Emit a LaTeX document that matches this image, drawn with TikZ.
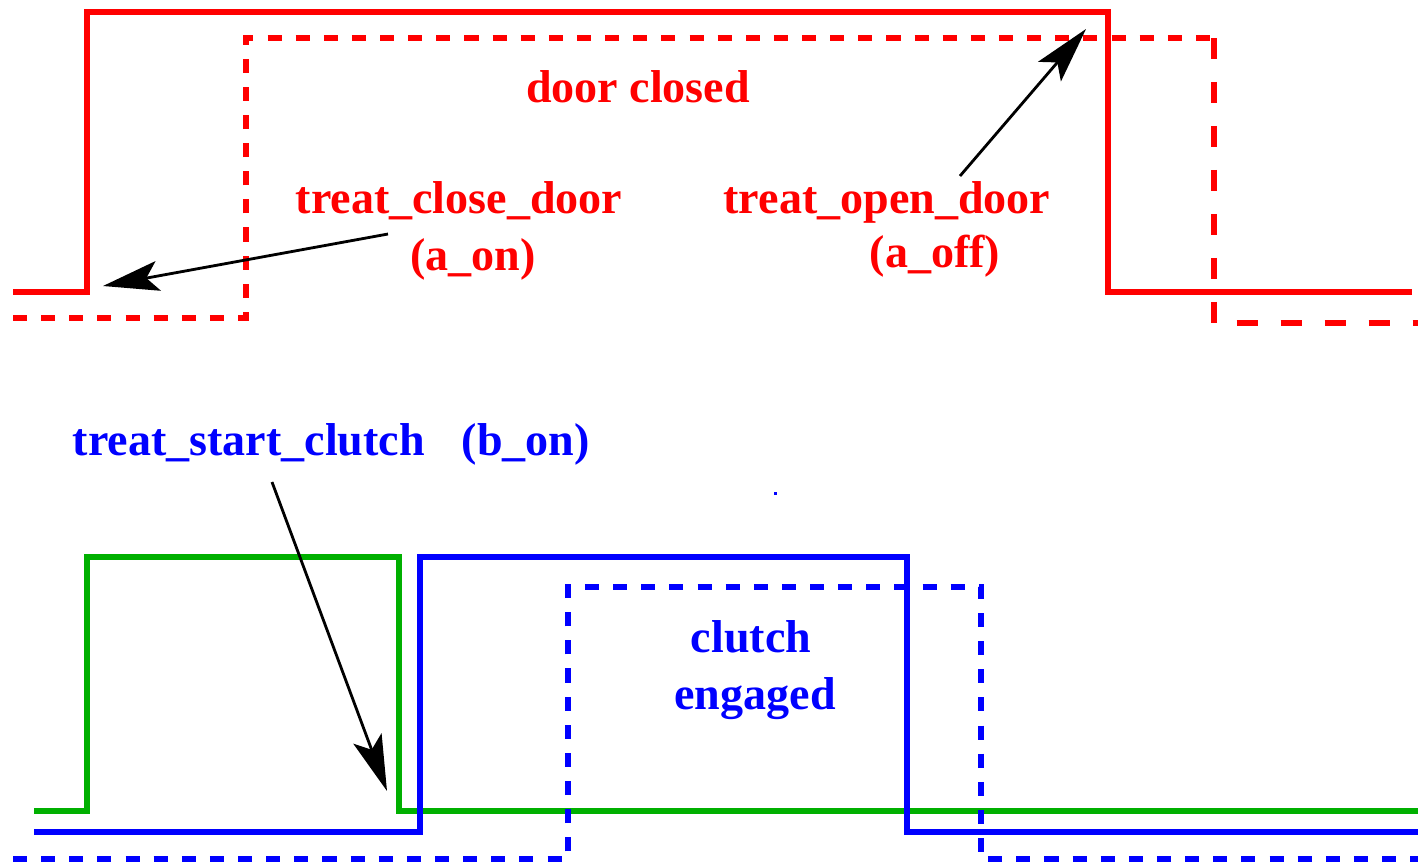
\documentclass[tikz,border=0pt]{standalone}
\usepackage{fontspec}
\setmainfont{Liberation Serif}
\usetikzlibrary{arrows.meta}
\definecolor{doorRed}{HTML}{FF0000}
\definecolor{clutchBlue}{HTML}{0000FF}
\definecolor{startGreen}{HTML}{00B000}
\tikzset{
  wave/.style={line width=1.45pt, line join=miter},
  wave dashed/.style={wave, dash pattern=on 4pt off 4pt},
  wave long dashed/.style={wave, dash pattern=on 6pt off 6.5pt},
  pointer/.style={-{Stealth[length=5.6mm, width=3mm, inset=1.2mm]},
    line width=0.8pt, draw=black},
  sig label/.style={font=\fontsize{13.1}{15}\selectfont\bfseries,
    anchor=base, inner sep=0pt}
}
\begin{document}
\begin{tikzpicture}[x=0.01cm, y=-0.01cm]
  \useasboundingbox (0,0) rectangle (1418,866);
  % door signal
  \draw[wave, doorRed] (13,292) -- (87,292) -- (87,12) -- (1108,12)
    -- (1108,292) -- (1412,292);
  \draw[wave dashed, doorRed] (13,318) -- (246,318) -- (246,38) -- (1214,38);
  \draw[wave long dashed, doorRed] (1214,38) -- (1214,323) -- (1418,323);
  \node[sig label, text=doorRed] (closed) at (638,102) {door closed};
  \node[sig label, text=doorRed] (closecmd) at (459,213) {treat\_close\_door};
  \node[sig label, text=doorRed] (aon) at (473,270) {(a\_on)};
  \node[sig label, text=doorRed] (opencmd) at (887,213) {treat\_open\_door};
  \node[sig label, text=doorRed] (aoff) at (935,267) {(a\_off)};
  \coordinate (closefrom) at (388,234);
  \coordinate (closeto) at (103,286);
  \coordinate (openfrom) at (960,176);
  \coordinate (opento) at (1086,29);
  \draw[pointer] (closefrom) -- (closeto);
  \draw[pointer] (openfrom) -- (opento);
  % clutch signals
  \draw[wave, startGreen] (34,811) -- (87,811) -- (87,557) -- (399,557)
    -- (399,811) -- (1418,811);
  \draw[wave, clutchBlue] (34,832) -- (420,832) -- (420,557) -- (907,557)
    -- (907,832) -- (1418,832);
  \draw[wave dashed, clutchBlue] (13,859) -- (568,859) -- (568,587)
    -- (981,587) -- (981,859) -- (1418,859);
  \fill[clutchBlue] (773.5,491.5) rectangle ++(3,3);
  \node[sig label, text=clutchBlue, anchor=base west] (startcmd) at (72,455)
    {treat\_start\_clutch\hspace{0.8em}(b\_on)};
  \node[sig label, text=clutchBlue] (clutch) at (751,652) {clutch};
  \node[sig label, text=clutchBlue] (engaged) at (755,709) {engaged};
  \coordinate (startfrom) at (272,482);
  \coordinate (startto) at (387,791);
  \draw[pointer] (startfrom) -- (startto);
\end{tikzpicture}
\end{document}
